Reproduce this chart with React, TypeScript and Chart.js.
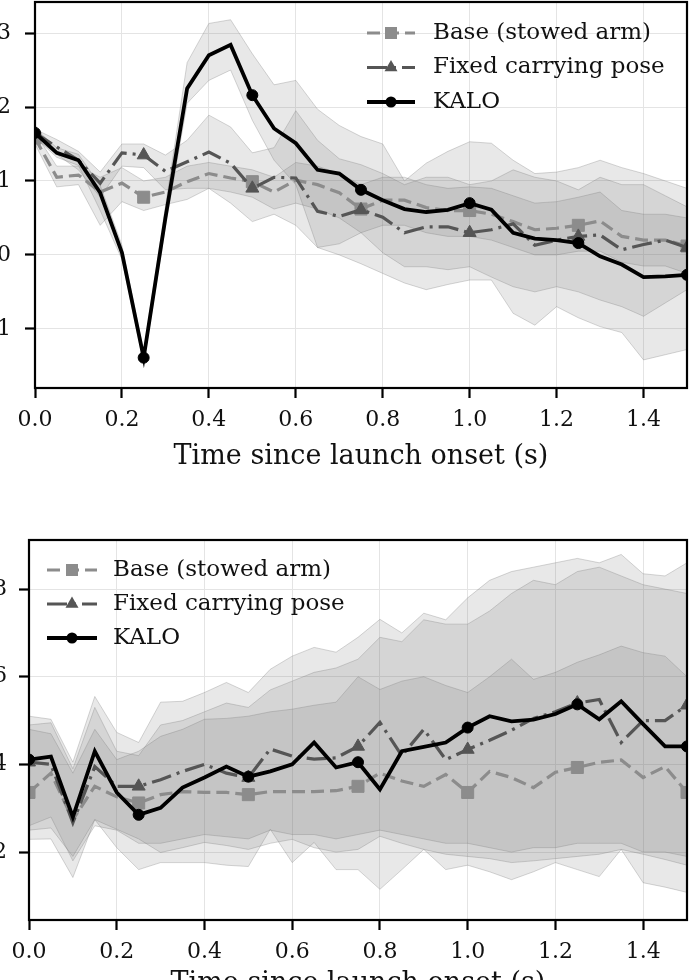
import React, { useEffect, useRef } from "react";
import { Chart, registerables } from "chart.js";

Chart.register(...registerables);

// ---------- data ----------
const TIME = [0.0, 0.05, 0.1, 0.15, 0.2, 0.25, 0.3, 0.35, 0.4, 0.45, 0.5, 0.55, 0.6, 0.65, 0.7, 0.75, 0.8, 0.85, 0.9, 0.95, 1.0, 1.05, 1.1, 1.15, 1.2, 1.25, 1.3, 1.35, 1.4, 1.45, 1.5];
const SERIES = ["Base (stowed arm)", "Fixed carrying pose", "KALO"];
const X_TICKS = [0.0, 0.2, 0.4, 0.6, 0.8, 1.0, 1.2, 1.4];
const X_TITLE = "Time since launch onset (s)";
const TOP_Y_TICKS = [-1, 0, 1, 2, 3];
const BOTTOM_Y_TICKS = [2, 4, 6, 8];

// top panel
const TOP_BASE = [1.58, 1.05, 1.08, 0.85, 0.97, 0.78, 0.85, 0.99, 1.10, 1.04, 0.99, 0.85, 1.01, 0.95, 0.84, 0.62, 0.74, 0.74, 0.64, 0.60, 0.60, 0.55, 0.45, 0.34, 0.36, 0.40, 0.46, 0.25, 0.20, 0.20, 0.12];
const TOP_BASE_LO = [1.50, 0.92, 0.95, 0.40, 0.72, 0.60, 0.68, 0.75, 0.90, 0.85, 0.78, 0.62, 0.70, 0.62, 0.50, 0.30, 0.40, 0.40, 0.30, 0.25, 0.25, 0.20, 0.10, 0.00, 0.00, 0.05, 0.05, -0.10, -0.15, -0.15, -0.25];
const TOP_BASE_HI = [1.65, 1.20, 1.20, 1.05, 1.18, 1.00, 1.05, 1.20, 1.25, 1.20, 1.15, 1.05, 1.25, 1.20, 1.10, 0.95, 1.05, 1.05, 0.95, 0.90, 0.92, 0.90, 0.80, 0.70, 0.72, 0.78, 0.85, 0.60, 0.55, 0.55, 0.50];

const TOP_FIXED = [1.65, 1.46, 1.28, 0.97, 1.38, 1.35, 1.13, 1.26, 1.39, 1.24, 0.90, 1.05, 1.04, 0.59, 0.52, 0.61, 0.51, 0.30, 0.38, 0.38, 0.30, 0.34, 0.42, 0.13, 0.20, 0.25, 0.27, 0.07, 0.14, 0.20, 0.10];
const TOP_FIXED_LO = [1.58, 1.36, 1.15, 0.78, 1.20, 1.18, 0.88, 0.90, 0.90, 0.70, 0.45, 0.55, 0.40, 0.10, 0.15, 0.30, 0.03, -0.16, -0.16, -0.20, -0.16, -0.30, -0.43, -0.50, -0.43, -0.50, -0.61, -0.70, -0.83, -0.65, -0.47];
const TOP_FIXED_HI = [1.70, 1.56, 1.40, 1.12, 1.50, 1.50, 1.35, 1.55, 1.89, 1.73, 1.38, 1.45, 1.95, 1.55, 1.30, 1.22, 1.10, 0.95, 1.05, 1.05, 0.95, 1.00, 1.15, 1.05, 1.00, 0.88, 1.05, 0.95, 0.95, 0.80, 0.65];

const TOP_KALO = [1.65, 1.38, 1.28, 0.84, 0.03, -1.39, 0.50, 2.25, 2.70, 2.84, 2.16, 1.71, 1.51, 1.15, 1.10, 0.88, 0.74, 0.62, 0.58, 0.61, 0.70, 0.61, 0.30, 0.22, 0.20, 0.16, -0.02, -0.13, -0.30, -0.29, -0.27];
const TOP_KALO_LO = [1.59, 1.32, 1.21, 0.60, -0.06, -1.47, 0.38, 2.05, 2.36, 2.50, 1.82, 1.28, 0.95, 0.10, 0.00, -0.12, -0.25, -0.38, -0.47, -0.40, -0.34, -0.34, -0.79, -0.95, -0.70, -0.85, -0.97, -1.05, -1.42, -1.35, -1.28];
const TOP_KALO_HI = [1.71, 1.45, 1.36, 0.94, 0.13, -1.31, 0.65, 2.60, 3.13, 3.18, 2.72, 2.30, 2.36, 1.97, 1.75, 1.60, 1.50, 1.00, 1.24, 1.40, 1.53, 1.51, 1.28, 1.10, 1.12, 1.18, 1.28, 1.18, 1.10, 1.00, 0.90];

// bottom panel
const BOT_BASE = [3.36, 3.80, 2.74, 3.50, 3.26, 3.12, 3.31, 3.38, 3.36, 3.36, 3.31, 3.38, 3.38, 3.38, 3.40, 3.50, 3.80, 3.62, 3.50, 3.77, 3.36, 3.84, 3.70, 3.47, 3.82, 3.93, 4.05, 4.10, 3.70, 3.95, 3.36];
const BOT_BASE_LO = [2.60, 2.80, 1.80, 2.60, 2.50, 2.20, 2.20, 2.30, 2.40, 2.35, 2.30, 2.50, 2.40, 2.40, 2.30, 2.40, 2.50, 2.40, 2.30, 2.20, 2.20, 2.10, 2.00, 2.10, 2.10, 2.20, 2.20, 2.20, 2.00, 2.00, 1.90];
const BOT_BASE_HI = [4.80, 4.70, 3.80, 4.80, 4.11, 4.30, 4.64, 4.80, 5.03, 5.05, 5.10, 5.20, 5.26, 5.35, 5.42, 6.00, 5.71, 5.90, 6.00, 5.80, 5.64, 6.00, 6.40, 5.94, 6.10, 6.33, 6.50, 6.70, 6.55, 6.47, 6.00];

const BOT_FIXED = [4.05, 4.00, 2.67, 3.95, 3.50, 3.50, 3.65, 3.84, 4.00, 3.80, 3.70, 4.35, 4.19, 4.12, 4.15, 4.41, 4.96, 4.20, 4.80, 4.11, 4.34, 4.55, 4.78, 5.05, 5.20, 5.40, 5.48, 4.50, 5.00, 5.00, 5.35];
const BOT_FIXED_LO = [2.50, 2.55, 1.90, 2.74, 2.52, 2.30, 1.99, 2.10, 2.22, 2.15, 2.06, 2.20, 2.29, 2.10, 2.00, 2.06, 2.36, 2.20, 2.06, 1.95, 1.90, 1.85, 1.76, 1.80, 1.85, 1.90, 1.95, 2.06, 1.95, 1.83, 1.70];
const BOT_FIXED_HI = [5.10, 5.03, 4.05, 5.55, 4.73, 4.50, 5.42, 5.44, 5.64, 5.87, 5.64, 6.17, 6.47, 6.67, 6.56, 6.90, 7.31, 7.00, 7.45, 7.30, 7.80, 8.20, 8.40, 8.50, 8.60, 8.70, 8.60, 8.79, 8.35, 8.30, 8.60];

const BOT_KALO = [4.11, 4.18, 2.80, 4.30, 3.36, 2.85, 3.01, 3.47, 3.70, 3.95, 3.72, 3.84, 4.00, 4.50, 3.93, 4.05, 3.43, 4.30, 4.40, 4.50, 4.84, 5.10, 4.98, 5.02, 5.15, 5.37, 5.03, 5.44, 4.92, 4.41, 4.41];
const BOT_KALO_LO = [2.29, 2.30, 1.42, 2.74, 2.10, 1.60, 1.76, 1.76, 1.76, 1.70, 1.67, 2.52, 1.76, 2.22, 1.60, 1.60, 1.15, 1.60, 2.06, 1.60, 1.70, 1.55, 1.37, 1.55, 1.76, 1.60, 1.44, 2.06, 1.30, 1.20, 1.08];
const BOT_KALO_HI = [4.90, 4.95, 3.90, 5.30, 4.30, 4.20, 4.90, 5.00, 5.20, 5.40, 5.30, 5.70, 5.90, 6.10, 6.20, 6.40, 6.90, 6.80, 7.30, 7.20, 7.20, 7.50, 7.90, 8.20, 8.10, 8.40, 8.50, 8.30, 8.10, 8.00, 7.90];

// ---------- styles ----------
const FONT = "DejaVu Serif";
const STYLES = [
  { color: "#8c8c8c", width: 3.2, dash: [13, 6], marker: "rect", r: 8.5 },
  { color: "#555555", width: 3.2, dash: [20, 6, 3, 6], marker: "triangle", r: 7.5 },
  { color: "#000000", width: 3.8, dash: [] as number[], marker: "circle", r: 5.5 },
];
const BAND_FILL = "rgba(120,120,120,0.17)";
const BAND_EDGE = "rgba(120,120,120,0.30)";
const GRID = "#e4e4e4";

const pts = (ys: number[]) => ys.map((y, i) => ({ x: TIME[i], y }));

function bandPair(lo: number[], hi: number[]) {
  return [
    { data: pts(lo), borderColor: BAND_EDGE, borderWidth: 1, pointRadius: 0, fill: false, order: 5 },
    { data: pts(hi), borderColor: BAND_EDGE, borderWidth: 1, pointRadius: 0, fill: "-1", backgroundColor: BAND_FILL, order: 5 },
  ];
}

function lineSet(ys: number[], i: number) {
  const st = STYLES[i];
  return {
    label: SERIES[i],
    data: pts(ys),
    borderColor: st.color,
    backgroundColor: st.color,
    borderWidth: st.width,
    borderDash: st.dash,
    pointStyle: st.marker,
    pointRadius: (c: any) => (c.dataIndex % 5 === 0 ? st.r : 0),
    pointBackgroundColor: st.color,
    pointBorderColor: st.color,
    pointBorderWidth: 1,
    fill: false,
    tension: 0,
    order: 2 - i,
  };
}

function drawMarker(ctx: CanvasRenderingContext2D, st: any, x: number, y: number) {
  ctx.fillStyle = st.color;
  ctx.beginPath();
  if (st.marker === "rect") {
    const s = st.r * Math.SQRT1_2;
    ctx.rect(x - s, y - s, 2 * s, 2 * s);
  } else if (st.marker === "triangle") {
    for (let k = 0; k < 3; k++) {
      const a = (k * 2 * Math.PI) / 3;
      const px = x + Math.sin(a) * st.r;
      const py = y - Math.cos(a) * st.r;
      if (k === 0) ctx.moveTo(px, py);
      else ctx.lineTo(px, py);
    }
    ctx.closePath();
  } else {
    ctx.arc(x, y, st.r, 0, Math.PI * 2);
  }
  ctx.fill();
}

const framePlugin = {
  id: "panelFrame",
  afterDraw(chart: any) {
    const { ctx, chartArea: a } = chart;
    ctx.save();
    ctx.strokeStyle = "#000";
    ctx.lineWidth = 2.2;
    ctx.strokeRect(a.left, a.top, a.right - a.left, a.bottom - a.top);
    ctx.restore();
  },
};

function makeLegend(cfg: { x0: number; y0: number; dy: number; len: number; gap: number }) {
  return {
    id: "seriesLegend",
    afterDraw(chart: any) {
      const { ctx, chartArea: a } = chart;
      ctx.save();
      SERIES.forEach((name, i) => {
        const st = STYLES[i];
        const y = a.top + cfg.y0 + i * cfg.dy;
        const x0 = a.left + cfg.x0;
        const x1 = x0 + cfg.len;
        ctx.strokeStyle = st.color;
        ctx.lineWidth = st.width;
        ctx.setLineDash(st.dash);
        ctx.beginPath();
        ctx.moveTo(x0, y);
        ctx.lineTo(x1, y);
        ctx.stroke();
        ctx.setLineDash([]);
        drawMarker(ctx, st, (x0 + x1) / 2, y);
        ctx.fillStyle = "#111";
        ctx.font = `23px "${FONT}"`;
        ctx.textBaseline = "middle";
        ctx.textAlign = "left";
        ctx.fillText(name, x1 + cfg.gap, y);
      });
      ctx.restore();
    },
  };
}

const fmtY = (v: number) => (v < 0 ? "\u2212" + Math.abs(v) : String(v));

function makeConfig(opts: {
  base: number[]; baseLo: number[]; baseHi: number[];
  fixed: number[]; fixedLo: number[]; fixedHi: number[];
  kalo: number[]; kaloLo: number[]; kaloHi: number[];
  yMin: number; yMax: number; yTicks: number[];
  yWidth: number; yPad: number; xHeight: number;
  legend: { x0: number; y0: number; dy: number; len: number; gap: number };
}): any {
  const datasets = [
    ...bandPair(opts.baseLo, opts.baseHi),
    ...bandPair(opts.fixedLo, opts.fixedHi),
    ...bandPair(opts.kaloLo, opts.kaloHi),
    lineSet(opts.kalo, 2),
    lineSet(opts.fixed, 1),
    lineSet(opts.base, 0),
  ];
  return {
    type: "line",
    data: { datasets },
    options: {
      animation: false,
      responsive: false,
      devicePixelRatio: 1,
      events: [],
      layout: { autoPadding: false, padding: { left: 0, right: 3, top: 2, bottom: 0 } },
      plugins: { legend: { display: false }, tooltip: { enabled: false }, title: { display: false } },
      scales: {
        x: {
          type: "linear",
          min: 0,
          max: 1.5,
          afterBuildTicks: (s: any) => { s.ticks = X_TICKS.map((v) => ({ value: v })); },
          afterFit: (s: any) => { s.height = opts.xHeight; s.paddingLeft = 0; s.paddingRight = 0; },
          ticks: {
            autoSkip: false, maxRotation: 0, minRotation: 0, padding: 9,
            color: "#111", font: { family: FONT, size: 22 },
            callback: (v: any) => Number(v).toFixed(1),
          },
          grid: { color: GRID, lineWidth: 1, drawTicks: true, tickLength: 10, tickColor: "#000", tickWidth: 2.2 },
          border: { display: false },
          title: { display: true, text: X_TITLE, color: "#111", font: { family: FONT, size: 27 }, padding: { top: 0, bottom: 0 } },
        },
        y: {
          type: "linear",
          min: opts.yMin,
          max: opts.yMax,
          afterBuildTicks: (s: any) => { s.ticks = opts.yTicks.map((v) => ({ value: v })); },
          afterFit: (s: any) => { s.width = opts.yWidth; s.paddingTop = 0; s.paddingBottom = 0; },
          ticks: { autoSkip: false, padding: opts.yPad, color: "#111", font: { family: FONT, size: 22 }, callback: (v: any) => fmtY(Number(v)) },
          grid: { color: GRID, lineWidth: 1, drawTicks: true, tickLength: 10, tickColor: "#000", tickWidth: 2.2 },
          border: { display: false },
        },
      },
    },
    plugins: [framePlugin, makeLegend(opts.legend)],
  };
}

function Panel(props: { make: () => any; left: number; top: number; width: number; height: number }) {
  const ref = useRef<HTMLCanvasElement>(null);
  useEffect(() => {
    const chart = new Chart(ref.current as HTMLCanvasElement, props.make());
    return () => chart.destroy();
  }, []);
  return (
    <canvas
      ref={ref}
      width={props.width}
      height={props.height}
      style={{ position: "absolute", left: props.left, top: props.top, width: props.width, height: props.height }}
    />
  );
}

export default function App() {
  const top = () =>
    makeConfig({
      base: TOP_BASE, baseLo: TOP_BASE_LO, baseHi: TOP_BASE_HI,
      fixed: TOP_FIXED, fixedLo: TOP_FIXED_LO, fixedHi: TOP_FIXED_HI,
      kalo: TOP_KALO, kaloLo: TOP_KALO_LO, kaloHi: TOP_KALO_HI,
      yMin: -1.8, yMax: 3.42, yTicks: TOP_Y_TICKS,
      yWidth: 75, yPad: 14, xHeight: 85,
      legend: { x0: 332, y0: 31, dy: 34.5, len: 48, gap: 18 },
    });
  const bottom = () =>
    makeConfig({
      base: BOT_BASE, baseLo: BOT_BASE_LO, baseHi: BOT_BASE_HI,
      fixed: BOT_FIXED, fixedLo: BOT_FIXED_LO, fixedHi: BOT_FIXED_HI,
      kalo: BOT_KALO, kaloLo: BOT_KALO_LO, kaloHi: BOT_KALO_HI,
      yMin: 0.45, yMax: 9.12, yTicks: BOTTOM_Y_TICKS,
      yWidth: 69, yPad: 12, xHeight: 80,
      legend: { x0: 18, y0: 30, dy: 34, len: 50, gap: 16 },
    });
  return (
    <div style={{ position: "absolute", left: 0, top: 0, width: 690, height: 980, overflow: "hidden", background: "#fff" }}>
      <Panel make={top} left={-40} top={0} width={730} height={473} />
      <Panel make={bottom} left={-40} top={538} width={730} height={462} />
    </div>
  );
}
